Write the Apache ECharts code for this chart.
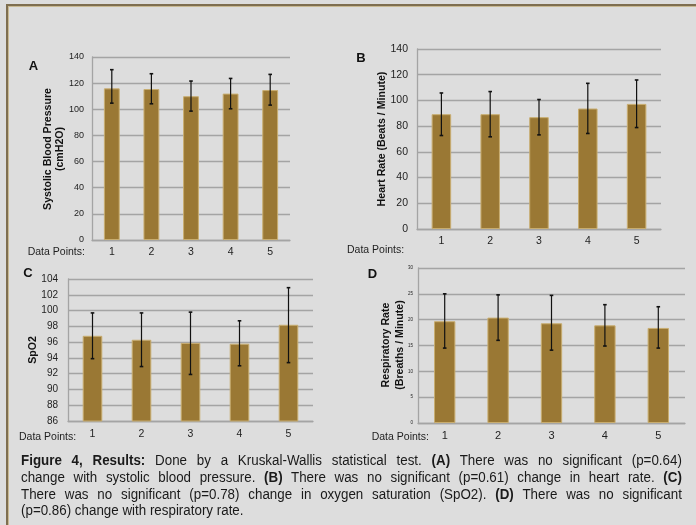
<!DOCTYPE html>
<html>
<head>
<meta charset="utf-8">
<script src="https://cdn.jsdelivr.net/npm/echarts@6/dist/echarts.min.js"></script>
<style>
  html, body { margin:0; padding:0; background:#dddddd; }
  #wrap { position:relative; width:696px; height:525px; overflow:hidden; background:#dddddd; }
  #frame { position:absolute; left:6px; top:4px; width:720px; height:560px;
           border-left:2px solid #7e6e50; border-top:2px solid #7e6e50;
           box-shadow: inset 1px 1px 0 #c9b992; }
  #chart { position:absolute; left:0; top:0; width:696px; height:525px; }
  #caption { position:absolute; left:21px; top:452px; width:751px;
             transform:scaleX(0.88); transform-origin:0 0;
             font-family:"Liberation Sans", Arial, sans-serif;
             font-size:15.2px; line-height:16.8px; color:#1a1a1a; }
  #caption .ln { text-align:justify; text-align-last:justify; white-space:nowrap; }
  #caption .last { text-align:left; }
  #caption b { font-weight:bold; }
</style>
</head>
<body>
<div id="wrap">
  <div id="frame"></div>
  <div id="chart"></div>
  <div id="caption">
    <div class="ln"><b>Figure 4, Results:</b> Done by a Kruskal-Wallis statistical test. <b>(A)</b> There was no significant (p=0.64)</div>
    <div class="ln">change with systolic blood pressure. <b>(B)</b> There was no significant (p=0.61) change in heart rate. <b>(C)</b></div>
    <div class="ln">There was no significant (p=0.78) change in oxygen saturation (SpO2). <b>(D)</b> There was no significant</div>
    <div class="last">(p=0.86) change with respiratory rate.</div>
  </div>
</div>
<script>
// ---- Data ----
const categories = ['1', '2', '3', '4', '5'];

const sbpMean  = [116, 115.5, 110, 112, 114.7];
const sbpUpper = [130.3, 127.2, 121.6, 123.6, 126.7];
const sbpLower = [104.7, 104.2, 98.6, 100.4, 103.2];

const hrMean  = [89.3, 89.3, 87, 93.7, 97.3];
const hrUpper = [105.8, 106.9, 100.7, 113.3, 115.9];
const hrLower = [72.7, 71.7, 73.2, 74.3, 78.9];

const spo2Mean  = [96.8, 96.3, 95.9, 95.8, 98.2];
const spo2Upper = [99.7, 99.7, 99.8, 98.7, 102.9];
const spo2Lower = [93.9, 92.9, 91.9, 93.0, 93.4];

const rrMean  = [19.7, 20.4, 19.3, 18.9, 18.4];
const rrUpper = [25.0, 24.8, 24.7, 22.9, 22.5];
const rrLower = [14.5, 16.0, 14.1, 14.9, 14.5];

const panelLetters = ['A', 'B', 'C', 'D'];
const yTitles = [
  'Systolic Blood Pressure\n(cmH2O)',
  'Heart Rate (Beats / Minute)',
  'SpO2',
  'Respiratory Rate\n(Breaths / Minute)'
];
const xTitle = 'Data Points:';

// ---- Styling / layout ----
const FONT = '"Liberation Sans", Arial, sans-serif';
const BAR = '#9a7834', BAR_EDGE = '#c8ad70', GRID = '#a4a4a4', TXT = '#1e1e1e';

const panels = [
  { mean:sbpMean, up:sbpUpper, lo:sbpLower, min:0, max:140, interval:20,
    grid:{left:92, top:57, width:198, height:183}, yFs:9, yMargin:8, xFs:10.5, xMargin:7 },
  { mean:hrMean, up:hrUpper, lo:hrLower, min:0, max:140, interval:20,
    grid:{left:417, top:49, width:244, height:180}, yFs:10.5, yMargin:9, xFs:10.5, xMargin:7 },
  { mean:spo2Mean, up:spo2Upper, lo:spo2Lower, min:86, max:104, interval:2,
    grid:{left:68, top:279, width:245, height:142}, yFs:10, yMargin:10, xFs:10.5, xMargin:8 },
  { mean:rrMean, up:rrUpper, lo:rrLower, min:0, max:30, interval:5,
    grid:{left:418, top:268, width:267, height:155}, yFs:4.5, yMargin:5, xFs:11, xMargin:7 }
];

const grids = [], xAxes = [], yAxes = [], series = [];
panels.forEach((p, i) => {
  grids.push(Object.assign({ containLabel:false }, p.grid));
  xAxes.push({
    type:'category', gridIndex:i, data:categories,
    axisLine:{ lineStyle:{ color:GRID, width:1.3 } },
    axisTick:{ show:false },
    axisLabel:{ color:TXT, fontSize:p.xFs, fontFamily:FONT, margin:p.xMargin }
  });
  yAxes.push({
    type:'value', gridIndex:i, min:p.min, max:p.max, interval:p.interval,
    axisLine:{ show:true, lineStyle:{ color:GRID, width:1.3 } },
    axisTick:{ show:false },
    splitLine:{ lineStyle:{ color:GRID, width:1.3 } },
    axisLabel:{ color:TXT, fontSize:p.yFs, fontFamily:FONT, margin:p.yMargin }
  });
  series.push({
    type:'bar', xAxisIndex:i, yAxisIndex:i, data:p.mean, barWidth:'40%',
    itemStyle:{ color:BAR, borderColor:BAR_EDGE, borderWidth:1 },
    animation:false, silent:true
  });
  series.push({
    type:'custom', xAxisIndex:i, yAxisIndex:i, z:10, animation:false, silent:true,
    encode:{ x:0, y:[1,2] },
    data: categories.map((c, k) => [k, p.lo[k], p.up[k]]),
    renderItem: function(params, api) {
      const x = api.value(0);
      const top = api.coord([x, api.value(2)]);
      const bot = api.coord([x, api.value(1)]);
      const cap = 1.8;
      const st = { stroke:'#111', lineWidth:1.2 };
      return { type:'group', children:[
        { type:'line', shape:{ x1:top[0], y1:top[1], x2:bot[0], y2:bot[1] }, style:st },
        { type:'line', shape:{ x1:top[0]-cap, y1:top[1], x2:top[0]+cap, y2:top[1] }, style:{stroke:'#111', lineWidth:1.6} },
        { type:'line', shape:{ x1:bot[0]-cap, y1:bot[1], x2:bot[0]+cap, y2:bot[1] }, style:{stroke:'#111', lineWidth:1.6} }
      ]};
    }
  });
});

// text placements (pixel layout)
const letterPos = [[33.5, 66], [361, 58.5], [28, 273.5], [372.5, 274]];
const yTitlePos = [[54, 149, 11.7], [382, 139, 12], [33, 350, 12], [393, 345, 13.3]];
const xTitlePos = [[27.7, 252], [347, 250], [19, 437], [371.7, 437]];

const graphic = [];
panelLetters.forEach((L, i) => {
  graphic.push({ type:'text', x:letterPos[i][0], y:letterPos[i][1], silent:true,
    style:{ text:L, font:'bold 13px ' + FONT, fill:'#111', align:'center', verticalAlign:'middle' } });
  graphic.push({ type:'text', x:yTitlePos[i][0], y:yTitlePos[i][1], rotation:Math.PI/2, silent:true,
    style:{ text:yTitles[i], font:'bold 10.6px ' + FONT, fill:'#111', align:'center', verticalAlign:'middle', lineHeight:yTitlePos[i][2] } });
  graphic.push({ type:'text', x:xTitlePos[i][0], y:xTitlePos[i][1], silent:true,
    style:{ text:xTitle, font:'10.5px ' + FONT, fill:TXT, align:'left', verticalAlign:'middle' } });
});

const chart = echarts.init(document.getElementById('chart'), null, { renderer:'canvas' });
chart.setOption({
  backgroundColor:'transparent',
  animation:false,
  grid:grids, xAxis:xAxes, yAxis:yAxes, series:series, graphic:graphic
});
</script>
</body>
</html>
